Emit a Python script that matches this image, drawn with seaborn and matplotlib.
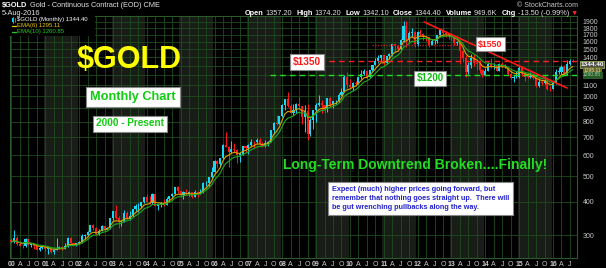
import numpy as np
import pandas as pd
import matplotlib
matplotlib.use("Agg")
import matplotlib.pyplot as plt
from matplotlib.ticker import NullLocator, FixedLocator
import seaborn as sns

# ---------------- data (monthly $GOLD, Jan 2000 .. Aug 2016) ----------------
open_ = [288,283,293,278,274,272,289,276,277,273,264,269,
         272,266,267,258,264,266,270,266,273,293,279,275,
         279,282,297,301,309,326,318,304,312,324,317,319,
         347,368,347,336,337,364,346,354,375,385,386,398,
         416,400,397,427,387,393,394,390,409,420,429,453,
         438,423,435,430,436,418,437,430,434,470,470,496,
         518,570,557,583,655,645,616,634,627,599,606,648,
         636,652,672,669,683,660,650,667,673,743,795,783,
         838,928,975,917,864,885,930,914,833,880,718,816,
         884,928,942,923,891,979,927,955,955,1008,1040,1182,
         1096,1081,1118,1113,1180,1215,1244,1180,1248,1309,1357,1387,
         1421,1332,1411,1439,1563,1536,1502,1628,1829,1620,1725,1746,
         1566,1740,1711,1669,1664,1561,1604,1615,1692,1776,1719,1714,
         1676,1664,1578,1596,1476,1393,1234,1312,1396,1327,1323,1250,
         1202,1240,1321,1284,1296,1246,1322,1282,1287,1210,1171,1175,
         1184,1279,1213,1183,1182,1190,1172,1095,1132,1115,1142,1064,
         1060,1116,1234,1234,1291,1215,1320,1357]
high = [293,313,298,285,278,292,291,281,278,275,272,275,
        273,268,269,265,292,274,272,280,294,294,280,281,
        284,303,303,310,327,330,321,316,327,325,323,349,
        369,389,355,342,372,371,370,376,392,395,400,418,
        429,420,431,428,395,400,411,418,420,432,456,457,
        439,439,448,440,437,443,438,447,476,479,498,541,
        573,575,585,661,732,650,679,664,630,614,650,649,
        660,690,676,695,693,673,686,677,746,796,848,841,
        933,978,1034,934,936,941,991,919,922,937,829,890,
        939,1007,963,926,982,990,960,968,1025,1070,1195,1227,
        1162,1125,1138,1184,1249,1266,1245,1250,1314,1388,1424,1432,
        1424,1413,1447,1576,1577,1553,1632,1912,1923,1755,1804,1764,
        1764,1791,1720,1680,1669,1641,1633,1694,1789,1798,1755,1726,
        1697,1684,1617,1616,1488,1424,1348,1434,1434,1362,1361,1267,
        1280,1346,1392,1331,1315,1327,1346,1325,1290,1256,1205,1239,
        1307,1284,1225,1225,1232,1205,1175,1170,1157,1192,1142,1088,
        1128,1263,1287,1305,1305,1363,1377,1374]
low = [281,281,276,272,268,271,275,270,265,263,262,267,
       262,255,257,255,263,265,264,265,270,276,272,272,
       277,281,289,299,307,313,301,300,311,312,315,317,
       343,346,320,324,336,344,341,352,370,367,378,396,
       399,393,393,385,372,383,386,388,400,416,426,431,
       418,411,425,420,414,417,418,428,431,460,456,490,
       516,538,541,580,642,543,613,614,560,563,602,610,
       605,650,637,666,652,642,646,650,671,723,776,782,
       837,886,911,860,850,863,907,787,735,681,706,750,
       801,916,865,865,869,913,905,931,947,1002,1033,1075,
       1072,1045,1088,1112,1160,1198,1155,1174,1240,1304,1331,1360,
       1309,1323,1381,1417,1462,1478,1480,1601,1535,1602,1671,1523,
       1540,1688,1627,1612,1527,1555,1564,1583,1687,1692,1673,1636,
       1626,1555,1562,1321,1339,1180,1208,1270,1292,1251,1221,1180,
       1195,1238,1277,1268,1240,1240,1281,1272,1204,1160,1131,1170,
       1167,1190,1142,1165,1170,1162,1077,1080,1098,1107,1053,1046,
       1061,1107,1208,1206,1200,1200,1310,1342]
close = [283,293,278,274,272,289,276,277,273,264,269,272,
         266,267,258,264,266,270,266,273,293,279,275,279,
         282,297,301,309,326,318,304,312,324,317,319,347,
         368,347,336,337,364,346,354,375,385,386,398,416,
         400,397,427,387,393,394,390,409,420,429,453,438,
         423,435,430,436,418,437,430,434,470,470,496,518,
         570,557,583,655,645,616,634,627,599,606,648,636,
         652,672,669,683,660,650,667,673,743,795,783,838,
         928,975,917,864,885,930,914,833,880,718,816,884,
         928,942,923,891,979,927,955,955,1008,1040,1182,1096,
         1081,1118,1113,1180,1215,1244,1180,1248,1309,1357,1387,1421,
         1332,1411,1439,1563,1536,1502,1628,1829,1620,1725,1746,1566,
         1740,1711,1669,1664,1561,1604,1615,1692,1776,1719,1714,1676,
         1664,1578,1596,1476,1393,1234,1312,1396,1327,1323,1250,1202,
         1240,1321,1284,1296,1246,1322,1282,1287,1210,1171,1175,1184,
         1279,1213,1183,1182,1190,1172,1095,1132,1115,1142,1064,1060,
         1116,1234,1234,1291,1215,1320,1350,1344]

y_ticks = [300,400,500,600,700,800,900,1000,1100,1200,1300,1400,1500,1600,1700,1800,1900]
y_hidden = [1200, 1300]   # labels covered by the price boxes
year_labels = ["00","01","02","03","04","05","06","07","08","09","10","11","12","13","14","15","16"]
quarter_labels = ["A", "J", "O"]

# annotation levels (price levels drawn by the chartist)
level_1350 = 1350
level_1200 = 1200
level_1550 = 1550
trend_x = [146.3, 197.0]
trend_y = [1900, 1072]

# ---------------- style ----------------
sns.set_theme(style="dark")
plt.rcParams['font.family'] = ['Liberation Sans', 'DejaVu Sans']

W, H = 606, 268
fig = plt.figure(figsize=(W / 100, H / 100), dpi=100, facecolor='black')
ax = fig.add_axes([10 / W, 1 - 258 / H, 567 / W, (258 - 16) / H])
ax.set_facecolor('black')

n = len(close)
df = pd.DataFrame({'i': np.arange(n), 'open': open_, 'high': high,
                   'low': low, 'close': close})
df['ema6'] = df['close'].ewm(span=6, adjust=False).mean()
df['ema10'] = df['close'].ewm(span=10, adjust=False).mean()

# alternating year bands
for k in range(1, 17, 2):
    ax.axvspan(12 * k - 0.5, 12 * k + 11.5, color='#181d18', zorder=0, lw=0)

grid_c = '#1f4c1f'
ax.set_yscale('log')
ax.set_ylim(246, 2000)
ax.set_xlim(-0.5, 200.5)
ax.yaxis.set_major_locator(FixedLocator(y_ticks))
ax.yaxis.set_minor_locator(NullLocator())
ax.set_yticklabels(["" if v in y_hidden else str(v) for v in y_ticks])
xt = list(range(0, n, 3))
xl = []
for t in xt:
    if t % 12 == 0:
        xl.append(year_labels[t // 12])
    else:
        xl.append(quarter_labels[(t % 12) // 3 - 1])
ax.set_xticks(xt)
ax.set_xticklabels(xl)
for t, lab in zip(xt, ax.get_xticklabels()):
    if t % 12 == 0:
        lab.set_fontweight('bold')
ax.yaxis.tick_right()
ax.tick_params(axis='y', length=0, pad=4, labelsize=5, labelcolor='#c8c8c8')
ax.tick_params(axis='x', length=0, pad=2, labelsize=5, labelcolor='#c8c8c8')
ax.grid(True, color=grid_c, lw=0.6, zorder=1)
ax.set_axisbelow(True)
for s in ax.spines.values():
    s.set_color('#2a5a2a')
    s.set_linewidth(0.8)

# candles
o = df['open'].values; c = df['close'].values
colors = np.where(c >= o, '#1ad8f5', '#ff1a1a')
ax.vlines(df['i'], df['low'], df['high'], colors=colors, lw=0.7, zorder=3)
bot = np.minimum(o, c).astype(float)
top = np.maximum(np.maximum(o, c), bot * 1.005)
ax.bar(df['i'], top - bot, bottom=bot, width=0.75, color=colors, lw=0, zorder=4)

# EMAs
sns.lineplot(data=df, x='i', y='ema6', ax=ax, color='#d9a400', lw=0.8, zorder=5)
sns.lineplot(data=df, x='i', y='ema10', ax=ax, color='#1faa1f', lw=0.8, zorder=5)
ax.set_xlabel(''); ax.set_ylabel('')

# chartist lines
ax.hlines(level_1350, 98.8, 200.5, colors='#ff2020', linestyles=(0, (4, 3)), lw=1.0, zorder=6)
ax.hlines(level_1200, 91.7, 200.5, colors='#22dd22', linestyles=(0, (4, 3)), lw=1.0, zorder=6)
ax.hlines(level_1550, 127.8, 157.9, colors='#b01a1a', linestyles=(0, (1, 1)), lw=1.0, zorder=6)
ax.plot(trend_x, trend_y, color='#ff1a1a', lw=1.2, zorder=6)


def ftext(px, py, s, **kw):
    return fig.text(px / W, 1 - py / H, s, **kw)


def box(fc='white', ec='#888888', pad=0.3):
    return dict(boxstyle=f'square,pad={pad}', fc=fc, ec=ec, lw=0.8)


# big annotations
ftext(129, 60, "$GOLD", fontsize=22, fontweight='bold', color='#ffff00', ha='center', va='center')
ftext(133, 97, "Monthly Chart", fontsize=9.2, fontweight='bold', color='#11cc11',
      ha='center', va='center', bbox=box(pad=0.35))
ftext(130, 123.5, "2000 - Present", fontsize=7.2, fontweight='bold', color='#11cc11',
      ha='center', va='center', bbox=box(pad=0.3))
ftext(415, 165, "Long-Term Downtrend Broken....Finally!", fontsize=10, fontweight='bold',
      color='#22dd22', ha='center', va='center')
ftext(509, 198.5, "Expect (much) higher prices going forward, but\n"
      "remember that nothing goes straight up.  There will\n"
      "be gut wrenching pullbacks along the way.", fontsize=5.2, fontweight='bold',
      color='#2222cc', ha='right', va='center', ma='left', linespacing=1.35,
      bbox=box(pad=0.55))
ftext(307, 62, "$1350", fontsize=7.3, fontweight='bold', color='#ff1a1a', ha='center',
      va='center', bbox=box(pad=0.3))
ftext(430, 78.5, "$1200", fontsize=7, fontweight='bold', color='#11bb11', ha='center',
      va='center', bbox=box(pad=0.3))
ftext(490.5, 44, "$1550", fontsize=6.3, fontweight='bold', color='#ff1a1a', ha='center',
      va='center', bbox=box(pad=0.3))

# right price boxes
ftext(592, 64.5, "1344.40", fontsize=4.6, fontweight='bold', color='white', ha='center',
      va='center', bbox=box(fc='#505050', ec='#8a9a50', pad=0.12))
ftext(592, 70.0, "1295.11", fontsize=3.6, color='#d8d8a0', ha='center',
      va='center', bbox=box(fc='#6a6a2a', ec='#6a6a2a', pad=0.1))
ftext(592, 74.7, "1260.85", fontsize=3.6, color='#a0d8a0', ha='center',
      va='center', bbox=box(fc='#2a5a2a', ec='#2a5a2a', pad=0.1))

# legend block (top-left inside plot)
ax.add_patch(plt.Rectangle((0, 1 - 20 / 242), 85 / 567, 20 / 242, transform=ax.transAxes,
                           fc='black', ec='none', zorder=7))
fig.add_artist(plt.Line2D([12.5 / W, 12.5 / W], [1 - 17 / H, 1 - 23 / H], color='#1ad8f5', lw=0.6))
fig.add_artist(plt.Rectangle((11.7 / W, 1 - 22 / H), 1.6 / W, 3.5 / H, fc='#1ad8f5', ec='none'))
fig.add_artist(plt.Line2D([14.5 / W, 14.5 / W], [1 - 18 / H, 1 - 22 / H], color='#22cc22', lw=0.6))
ftext(17, 20, "$GOLD (Monthly) 1344.40", fontsize=4.3, color='white', ha='left', va='center')
fig.add_artist(plt.Line2D([12 / W, 16 / W], [1 - 26 / H, 1 - 26 / H], color='#e8c800', lw=0.9))
ftext(17, 26, "EMA(6) 1295.11", fontsize=4.3, color='#e8c800', ha='left', va='center')
fig.add_artist(plt.Line2D([12 / W, 16 / W], [1 - 32 / H, 1 - 32 / H], color='#22cc22', lw=0.9))
ftext(17, 32, "EMA(10) 1260.85", fontsize=4.3, color='#22cc22', ha='left', va='center')

# header runs
renderer = fig.canvas.get_renderer()


def place_runs(px, py, runs, ha='left', size=5.5):
    objs, widths = [], []
    for s, kw, gap in runs:
        t = fig.text(0, 1 - py / H, s, fontsize=size, va='center', ha='left', **kw)
        objs.append(t)
        widths.append(t.get_window_extent(renderer=renderer).width + gap)
    total = sum(widths)
    cur = px - total if ha == 'right' else px
    for t, w in zip(objs, widths):
        t.set_x(cur / W)
        cur += w


B = dict(fontweight='bold', color='white')
N = dict(color='#e0e0e0')
place_runs(2, 5.5, [("$GOLD", B, 3), ("Gold - Continuous Contract (EOD) CME", N, 0)], size=5.3)
place_runs(2, 13.5, [("5-Aug-2016", N, 0)], size=5.3)
place_runs(578, 13.5, [("Open", B, 2), ("1357.20", N, 4), ("High", B, 2), ("1374.20", N, 4),
                       ("Low", B, 2), ("1342.10", N, 4), ("Close", B, 2), ("1344.40", N, 4),
                       ("Volume", B, 2), ("949.6K", N, 4), ("Chg", B, 2),
                       ("-13.50 (-0.99%)", N, 2), ("\u25bc", dict(color='#ff2020'), 0)],
           ha='right', size=5.3)
ftext(578, 5.5, "\u00a9 StockCharts.com", fontsize=5, color='#c8c8c8', ha='right', va='center')

fig.savefig("out.png", dpi=100, facecolor='black')
